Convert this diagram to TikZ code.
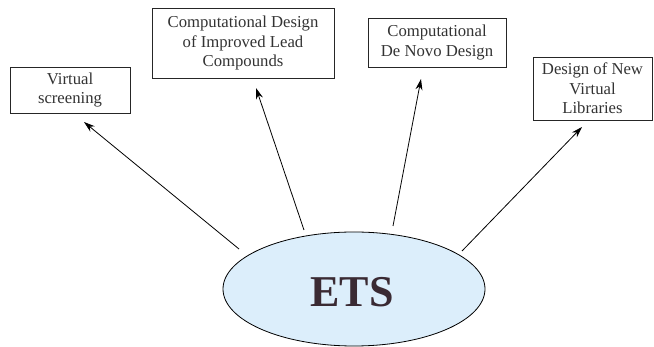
\documentclass[tikz,border=0pt]{standalone}
\usepackage{fontspec}
\setmainfont{Liberation Serif}
\usetikzlibrary{arrows.meta,shapes.geometric}
\definecolor{txt}{HTML}{333333}
\definecolor{etsfill}{HTML}{DCEEFB}
\definecolor{etstxt}{HTML}{3A2A33}
\begin{document}
\begin{tikzpicture}[x=1pt,y=-1pt,
  box/.style={draw=black!85,line width=0.9pt,rectangle,inner sep=0pt,align=center,
    text=txt,font=\fontsize{16.7}{19.5}\selectfont},
  conn/.style={line width=0.8pt,-{Stealth[length=11pt,width=7pt]}}]
\useasboundingbox (0,0) rectangle (654,347);
\node[ellipse,draw=black,line width=0.8pt,fill=etsfill,minimum width=262pt,minimum height=114pt,inner sep=0pt] (ets) at (354,289) {};
\node[text=etstxt,font=\fontsize{44}{48}\selectfont\bfseries] (etslabel) at (352,292) {ETS};
\node[box,minimum width=120pt,minimum height=46pt] (b1) at (70,90) {Virtual\\screening};
\node[box,minimum width=182pt,minimum height=70pt] (b2) at (243,43) {Computational Design\\of Improved Lead\\Compounds};
\node[box,minimum width=138pt,minimum height=49pt] (b3) at (437,42.5) {Computational\\De Novo Design};
\node[box,minimum width=119pt,minimum height=63pt] (b4) at (592.5,88.5) {Design of New\\Virtual\\Libraries};
\coordinate (s1) at (239,249); \coordinate (t1) at (84,122);
\coordinate (s2) at (304,230); \coordinate (t2) at (256,88);
\coordinate (s3) at (393,226); \coordinate (t3) at (421,79);
\coordinate (s4) at (462,251); \coordinate (t4) at (582,127);
\draw[conn] (s1) -- (t1);
\draw[conn] (s2) -- (t2);
\draw[conn] (s3) -- (t3);
\draw[conn] (s4) -- (t4);
\end{tikzpicture}
\end{document}
